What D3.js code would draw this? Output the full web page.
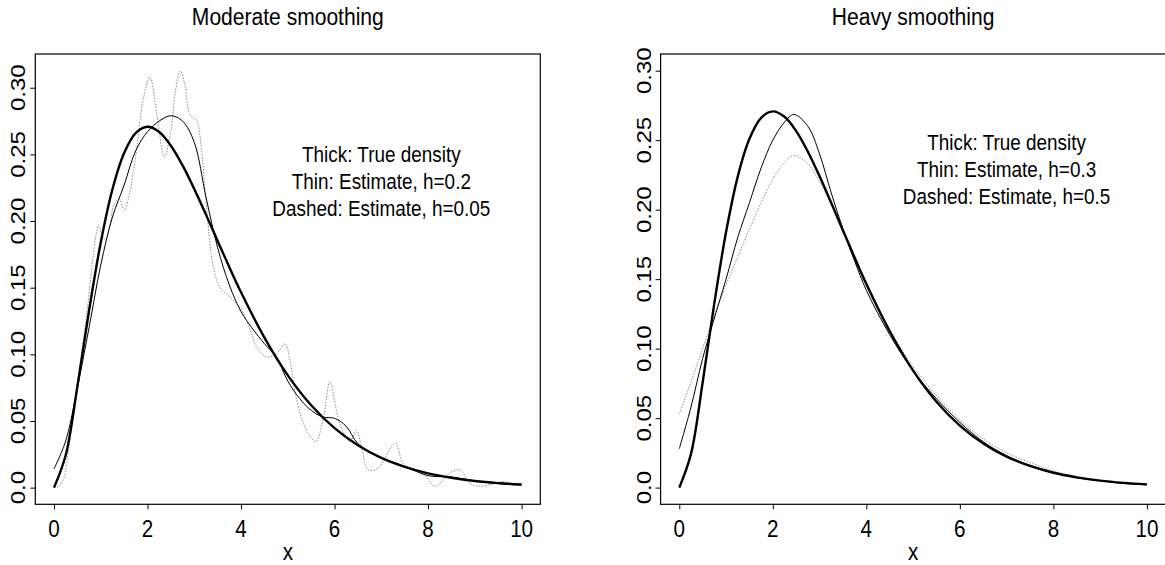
<!DOCTYPE html>
<html>
<head>
<meta charset="utf-8">
<script src="https://cdn.jsdelivr.net/npm/d3@7"></script>
<style>
  body { margin: 0; background: #fff; }
  text { font-family: "Liberation Sans", Arial, sans-serif; fill: #000; }
</style>
</head>
<body>
<svg id="chart" width="1165" height="565"></svg>
<script>
const xTicks = [0, 2, 4, 6, 8, 10];
const yTicks = [0, 0.05, 0.10, 0.15, 0.20, 0.25, 0.30];
const yTickLabels = ["0.0", "0.05", "0.10", "0.15", "0.20", "0.25", "0.30"];

// true density (thick), same in both panels
const trueX = [0, 0.25, 0.5, 0.75, 1, 1.25, 1.5, 1.75, 2, 2.25, 2.5, 2.75, 3, 3.25, 3.5, 3.75, 4, 4.5, 5, 5.5, 6, 6.5, 7, 7.5, 8, 8.5, 9, 9.5, 10];
const trueY = [0, 0.0243, 0.0758, 0.1329, 0.1839, 0.2238, 0.2510, 0.2661, 0.2707, 0.2668, 0.2565, 0.2417, 0.2240, 0.2048, 0.1850, 0.1654, 0.1465, 0.1125, 0.0842, 0.0618, 0.0446, 0.0318, 0.0223, 0.0156, 0.0107, 0.0074, 0.0050, 0.0034, 0.0023];

// moderate smoothing: thin h=0.2
const modThinX = [0, 0.25, 0.5, 0.75, 1, 1.25, 1.5, 1.75, 2, 2.25, 2.5, 2.75, 3, 3.25, 3.5, 3.75, 4, 4.25, 4.5, 4.75, 5, 5.25, 5.5, 5.75, 6, 6.25, 6.5, 7, 7.5, 8, 8.5, 9, 9.5, 10];
const modThinY = [0.014, 0.035, 0.075, 0.120, 0.167, 0.203, 0.227, 0.253, 0.267, 0.275, 0.279, 0.275, 0.259, 0.218, 0.180, 0.152, 0.132, 0.119, 0.108, 0.098, 0.080, 0.067, 0.058, 0.053, 0.052, 0.046, 0.033, 0.022, 0.016, 0.009, 0.008, 0.005, 0.003, 0.002];

// moderate smoothing: dashed h=0.05
const modDashX = [0, 0.1, 0.2, 0.3, 0.4, 0.5, 0.6, 0.7, 0.8, 0.9, 0.95, 1.02, 1.1, 1.2, 1.3, 1.4, 1.5, 1.6, 1.7, 1.8, 1.9, 2.05, 2.2, 2.36, 2.5, 2.6, 2.7, 2.8, 2.9, 3.05, 3.15, 3.25, 3.4, 3.55, 3.7, 3.85, 4.0, 4.2, 4.33, 4.55, 4.75, 4.94, 5.05, 5.15, 5.26, 5.45, 5.6, 5.75, 5.9, 6.0, 6.11, 6.33, 6.47, 6.58, 6.72, 6.9, 7.04, 7.2, 7.31, 7.46, 7.6, 7.89, 8.15, 8.46, 8.68, 8.9, 9.1, 9.3, 9.6, 9.8, 10];
const modDashY = [0, 0.001, 0.006, 0.025, 0.052, 0.078, 0.104, 0.13, 0.162, 0.19, 0.197, 0.19, 0.186, 0.198, 0.214, 0.216, 0.208, 0.218, 0.238, 0.262, 0.29, 0.308, 0.28, 0.248, 0.268, 0.298, 0.3126, 0.302, 0.28, 0.275, 0.255, 0.215, 0.167, 0.15, 0.145, 0.14, 0.134, 0.118, 0.106, 0.098, 0.100, 0.108, 0.095, 0.073, 0.056, 0.040, 0.0345, 0.05, 0.0795, 0.065, 0.048, 0.0345, 0.043, 0.03, 0.0133, 0.014, 0.0195, 0.03, 0.0333, 0.0183, 0.015, 0.0108, 0.001, 0.0108, 0.0133, 0.003, 0.001, 0.002, 0.0045, 0.003, 0.002];

// heavy smoothing: thin h=0.3
const heavyThinX = [0, 0.25, 0.5, 0.75, 1, 1.25, 1.5, 1.75, 2, 2.25, 2.45, 2.75, 3, 3.25, 3.5, 3.75, 4, 4.5, 5, 5.5, 6, 6.5, 7, 7.5, 8, 8.5, 9, 9.5, 10];
const heavyThinY = [0.028, 0.058, 0.093, 0.122, 0.150, 0.180, 0.205, 0.230, 0.250, 0.263, 0.2685, 0.260, 0.240, 0.212, 0.186, 0.163, 0.142, 0.110, 0.084, 0.064, 0.047, 0.033, 0.023, 0.016, 0.011, 0.007, 0.005, 0.003, 0.002];

// heavy smoothing: dashed h=0.5
const heavyDashX = [0, 0.25, 0.5, 0.75, 1, 1.25, 1.5, 1.75, 2, 2.25, 2.45, 2.75, 3, 3.25, 3.5, 3.75, 4, 4.5, 5, 5.5, 6, 6.5, 7, 7.5, 8, 8.5, 9, 9.5, 10];
const heavyDashY = [0.053, 0.076, 0.100, 0.124, 0.146, 0.166, 0.186, 0.205, 0.222, 0.234, 0.239, 0.233, 0.220, 0.204, 0.186, 0.167, 0.148, 0.114, 0.087, 0.066, 0.049, 0.035, 0.025, 0.018, 0.012, 0.008, 0.005, 0.003, 0.002];

const SQ = 0.86; // fonts look horizontally narrower than Liberation Sans

const svg = d3.select("#chart");

function label(g, x, y, str, size, rotate) {
  let t = g.append("text")
    .attr("transform", "translate(" + x + "," + y + ") scale(" + SQ + ",1)" + (rotate ? " rotate(-90)" : ""))
    .attr("text-anchor", "middle")
    .style("font-size", size + "px")
    .text(str);
  return t;
}

function zip(xs, ys) {
  return xs.map(function(d, i) { return {x: d, y: ys[i]}; });
}

function panel(opts) {
  let g = svg.append("g");
  let x = d3.scaleLinear().domain([-0.4, 10.4]).range([opts.left, opts.right]);
  let y = d3.scaleLinear().domain(opts.yDomain).range([504.3, 54]);

  // curves
  let line = d3.line()
    .x(function(d) { return x(d.x); })
    .y(function(d) { return y(d.y); })
    .curve(d3.curveCatmullRom.alpha(0.5));

  g.append("path").datum(zip(opts.dashX, opts.dashY))
    .attr("d", line).attr("fill", "none")
    .attr("stroke", "#8c8c8c").attr("stroke-width", 1)
    .attr("stroke-dasharray", "1.5,1.5");
  g.append("path").datum(zip(opts.thinX, opts.thinY))
    .attr("d", line).attr("fill", "none")
    .attr("stroke", "#000").attr("stroke-width", 1);
  g.append("path").datum(zip(trueX, trueY))
    .attr("d", line).attr("fill", "none")
    .attr("stroke", "#000").attr("stroke-width", 2.4);

  // box
  g.append("rect")
    .attr("x", opts.left).attr("y", 54)
    .attr("width", opts.right - opts.left).attr("height", 504.3 - 54)
    .attr("fill", "none").attr("stroke", "#000").attr("stroke-width", 1.2);

  // axes
  let xAxis = d3.axisBottom(x).tickValues(xTicks).tickSize(5).tickFormat("");
  g.append("g").attr("transform", "translate(0,504.3)").call(xAxis)
    .call(function(a) { a.select(".domain").remove(); });
  let yAxis = d3.axisLeft(y).tickValues(yTicks).tickSize(5).tickFormat("");
  g.append("g").attr("transform", "translate(" + opts.left + ",0)").call(yAxis)
    .call(function(a) { a.select(".domain").remove(); });
  g.selectAll(".tick line").attr("stroke", "#000").attr("stroke-width", 1);

  xTicks.forEach(function(v) { label(g, x(v), 537, String(v), 24); });
  yTicks.forEach(function(v, i) { label(g, opts.left - 10, y(v), yTickLabels[i], 24, true); });

  // title and x label
  let cx = (opts.left + opts.right) / 2;
  label(g, cx, 25, opts.title, 24.5);
  label(g, cx, 560, "x", 24);

  // notes
  let ty = y(0.2237);
  opts.notes.forEach(function(s, i) {
    label(g, x(7.0), ty + (i - 1) * 27, s, 22);
  });
}

panel({
  left: 35.3, right: 540.3, yDomain: [-0.0125, 0.3253],
  title: "Moderate smoothing",
  thinX: modThinX, thinY: modThinY, dashX: modDashX, dashY: modDashY,
  notes: ["Thick: True density", "Thin: Estimate, h=0.2", "Dashed: Estimate, h=0.05"]
});

panel({
  left: 660.6, right: 1165.6, yDomain: [-0.012, 0.312],
  title: "Heavy smoothing",
  thinX: heavyThinX, thinY: heavyThinY, dashX: heavyDashX, dashY: heavyDashY,
  notes: ["Thick: True density", "Thin: Estimate, h=0.3", "Dashed: Estimate, h=0.5"]
});
</script>
</body>
</html>
